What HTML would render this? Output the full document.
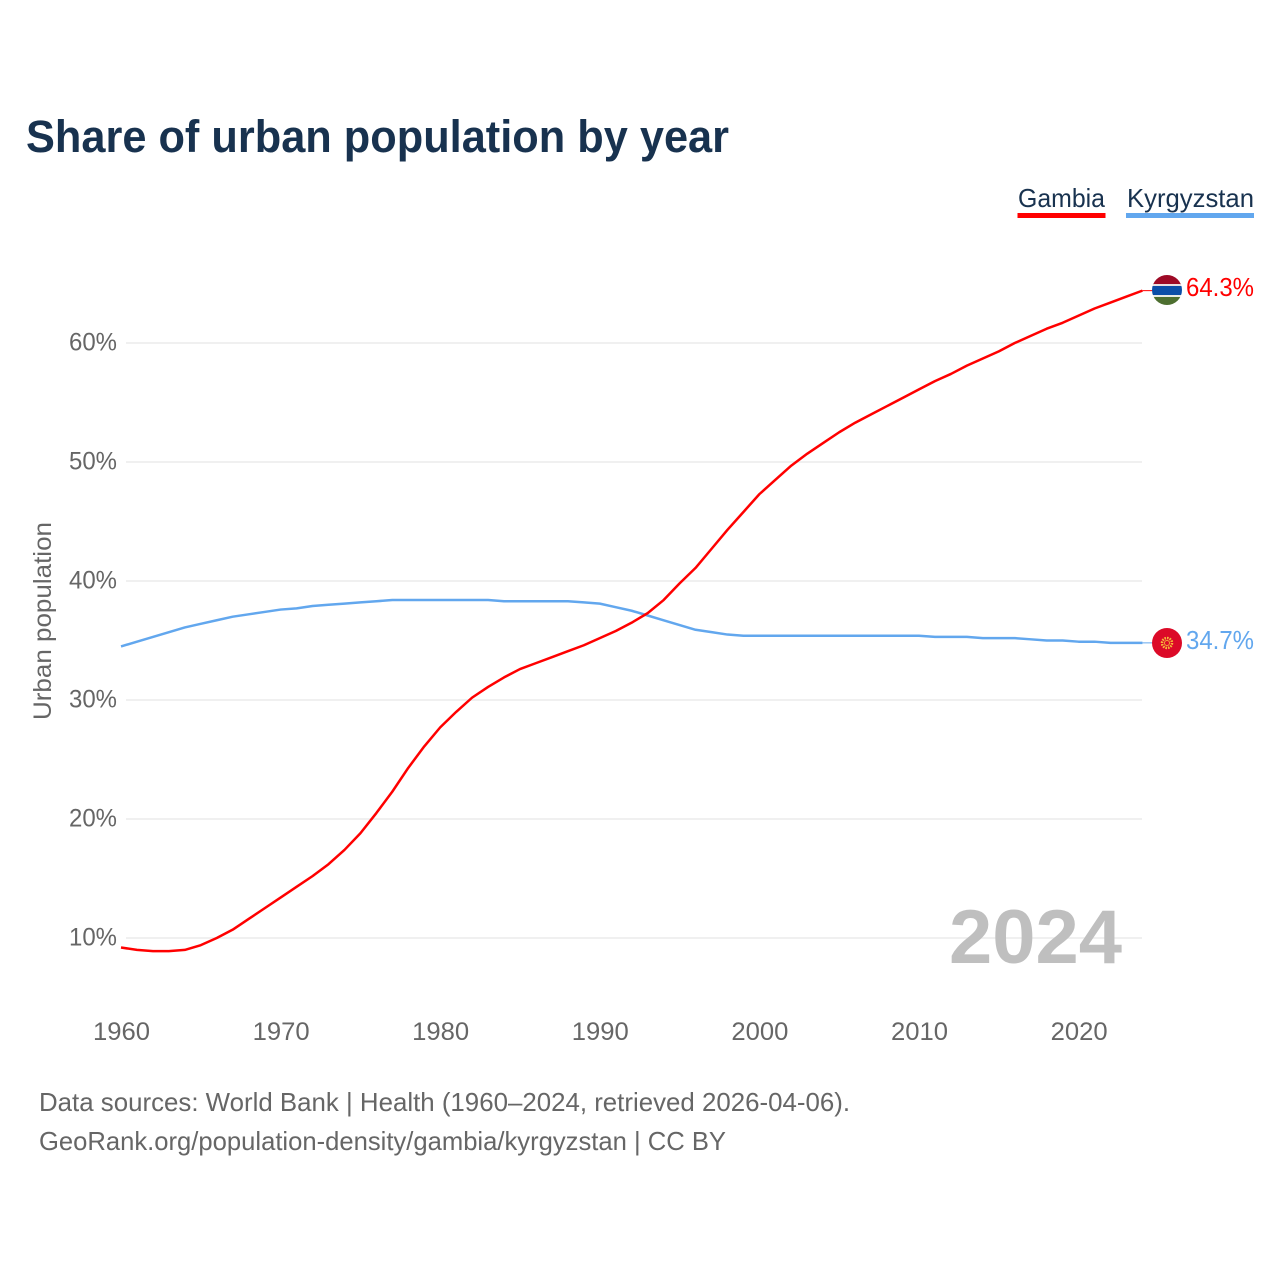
<!DOCTYPE html>
<html lang="en">
<head>
<meta charset="utf-8">
<title>Share of urban population by year</title>
<style>
html,body{margin:0;padding:0;background:#fff;width:1280px;height:1280px;overflow:hidden}
svg{display:block}
text{font-family:"Liberation Sans",sans-serif}
</style>
</head>
<body>
<svg id="chart" width="1280" height="1280" viewBox="0 0 1280 1280" xmlns="http://www.w3.org/2000/svg">
<rect width="1280" height="1280" fill="#fff"/>
<text x="26" y="152" font-size="45" font-weight="700" fill="#18324f" textLength="703" lengthAdjust="spacingAndGlyphs">Share of urban population by year</text>

<g>
<g>
<text x="1018" y="207" font-size="26" fill="#18324f" textLength="87" lengthAdjust="spacingAndGlyphs">Gambia</text>
<rect x="1017.500" y="213" width="88" height="5" fill="#ff0000"/>
</g>
<g>
<text x="1127" y="207" font-size="26" fill="#18324f" textLength="127" lengthAdjust="spacingAndGlyphs">Kyrgyzstan</text>
<rect x="1126" y="213" width="128" height="5" fill="#62a7ee"/>
</g>
</g>

<g id="grid"></g>
<g id="yticks"></g>
<g id="xticks"></g>
<text transform="translate(51,621) rotate(-90)" text-anchor="middle" font-size="25" fill="#666" textLength="198" lengthAdjust="spacingAndGlyphs">Urban population</text>

<text x="1122" y="963" text-anchor="end" font-size="76" font-weight="700" fill="#bfbfbf" textLength="173" lengthAdjust="spacingAndGlyphs">2024</text>

<g id="series"></g>

<g id="end-gambia">
<clipPath id="clip-gm"><circle cx="1167" cy="290" r="15"/></clipPath>
<g clip-path="url(#clip-gm)">
<rect x="1152" y="275" width="30" height="10" fill="#9e0a26"/>
<rect x="1152" y="284" width="30" height="2" fill="#e8dfe0"/>
<rect x="1152" y="286" width="30" height="9" fill="#0b4ea8"/>
<rect x="1152" y="295" width="30" height="2" fill="#e8eae4"/>
<rect x="1152" y="297" width="30" height="9" fill="#4d6f30"/>
</g>
</g>
<text x="1186" y="296" font-size="26" fill="#ff0000" textLength="68" lengthAdjust="spacingAndGlyphs">64.3%</text>

<g id="end-kyrgyzstan">
<circle cx="1167" cy="643" r="15" fill="#dc0a28"/>
<circle cx="1167" cy="643" r="5" fill="none" stroke="#f6b93a" stroke-width="2.500" stroke-dasharray="1.600 1"/>
<circle cx="1167" cy="643" r="2.500" fill="none" stroke="#f2a83a" stroke-width="1"/>
</g>
<text x="1186" y="649" font-size="26" fill="#62a7ee" textLength="68" lengthAdjust="spacingAndGlyphs">34.7%</text>

<text x="39" y="1111" font-size="26" fill="#666" textLength="811" lengthAdjust="spacingAndGlyphs">Data sources: World Bank | Health (1960–2024, retrieved 2026-04-06).</text>
<text x="39" y="1150" font-size="26" fill="#666" textLength="687" lengthAdjust="spacingAndGlyphs">GeoRank.org/population-density/gambia/kyrgyzstan | CC BY</text>
</svg>
<script>
const years = [1960,1961,1962,1963,1964,1965,1966,1967,1968,1969,1970,1971,1972,1973,1974,1975,1976,1977,1978,1979,1980,1981,1982,1983,1984,1985,1986,1987,1988,1989,1990,1991,1992,1993,1994,1995,1996,1997,1998,1999,2000,2001,2002,2003,2004,2005,2006,2007,2008,2009,2010,2011,2012,2013,2014,2015,2016,2017,2018,2019,2020,2021,2022,2023,2024];
const gambiaValues = [9.2,9.0,8.9,8.9,9.0,9.4,10.0,10.7,11.6,12.5,13.4,14.3,15.2,16.2,17.4,18.8,20.5,22.3,24.3,26.1,27.7,29.0,30.2,31.1,31.9,32.6,33.1,33.6,34.1,34.6,35.2,35.8,36.5,37.3,38.4,39.8,41.1,42.7,44.3,45.8,47.3,48.5,49.7,50.7,51.6,52.5,53.3,54.0,54.7,55.4,56.1,56.8,57.4,58.1,58.7,59.3,60.0,60.6,61.2,61.7,62.3,62.9,63.4,63.9,64.4];
const kyrgyzstanValues = [34.5,34.9,35.3,35.7,36.1,36.4,36.7,37.0,37.2,37.4,37.6,37.7,37.9,38.0,38.1,38.2,38.3,38.4,38.4,38.4,38.4,38.4,38.4,38.4,38.3,38.3,38.3,38.3,38.3,38.2,38.1,37.8,37.5,37.1,36.7,36.3,35.9,35.7,35.5,35.4,35.4,35.4,35.4,35.4,35.4,35.4,35.4,35.4,35.4,35.4,35.4,35.3,35.3,35.3,35.2,35.2,35.2,35.1,35.0,35.0,34.9,34.9,34.8,34.8,34.8];
const yTickValues = [10,20,30,40,50,60];
const yTickLabels = ['10%','20%','30%','40%','50%','60%'];
const xTickValues = [1960,1970,1980,1990,2000,2010,2020];
const xTickLabels = ['1960','1970','1980','1990','2000','2010','2020'];

const SVG_NS = 'http://www.w3.org/2000/svg';
function xScale(year){ return 121 + (year - 1960) * 15.96; }
function yScale(pct){ return 938 - (pct - 10) * 11.9; }
function make(tag, attrs, parent){
  const el = document.createElementNS(SVG_NS, tag);
  for (const k in attrs) el.setAttribute(k, attrs[k]);
  parent.appendChild(el);
  return el;
}

const gridG = document.getElementById('grid');
const yG = document.getElementById('yticks');
yTickValues.forEach(function(v, i){
  const line = make('line', {x1:126, x2:1142, y1:yScale(v), y2:yScale(v), stroke:'#ebebeb', 'stroke-width':1.500}, gridG);
  
  
  const t = make('text', {x:117, y:yScale(v) + 7.500, 'text-anchor':'end', 'font-size':25, fill:'#666', textLength:48, lengthAdjust:'spacingAndGlyphs'}, yG);
  
  
  t.textContent = yTickLabels[i];
});

const xG = document.getElementById('xticks');
xTickValues.forEach(function(v, i){
  const t = make('text', {x:xScale(v) + 0.500, y:1040, 'text-anchor':'middle', 'font-size':25, fill:'#666', textLength:57, lengthAdjust:'spacingAndGlyphs'}, xG);
  
  
  t.textContent = xTickLabels[i];
});

function pathFor(values){
  return values.map(function(v, i){
    return (i ? 'L' : 'M') + xScale(years[i]).toFixed(2) + ' ' + yScale(v).toFixed(2);
  }).join(' ');
}
const seriesG = document.getElementById('series');

const kyrgyzstanLine = make('path', {d:pathFor(kyrgyzstanValues), fill:'none', stroke:'#62a7ee', 'stroke-width':2.500, 'stroke-linejoin':'round'}, seriesG);



const gambiaLine = make('path', {d:pathFor(gambiaValues), fill:'none', stroke:'#ff0000', 'stroke-width':2.500, 'stroke-linejoin':'round'}, seriesG);



const lastX = xScale(years[years.length - 1]);
const gambiaLastY = yScale(gambiaValues[gambiaValues.length - 1]);
const kyrgyzstanLastY = yScale(kyrgyzstanValues[kyrgyzstanValues.length - 1]);

const gambiaStub = make('line', {x1:lastX, x2:1153, y1:gambiaLastY, y2:gambiaLastY, stroke:'#ff0000', 'stroke-width':1}, seriesG);



const kyrgyzstanStub = make('line', {x1:lastX, x2:1153, y1:kyrgyzstanLastY, y2:kyrgyzstanLastY, stroke:'#62a7ee', 'stroke-width':1}, seriesG);


</script>
</body>
</html>
